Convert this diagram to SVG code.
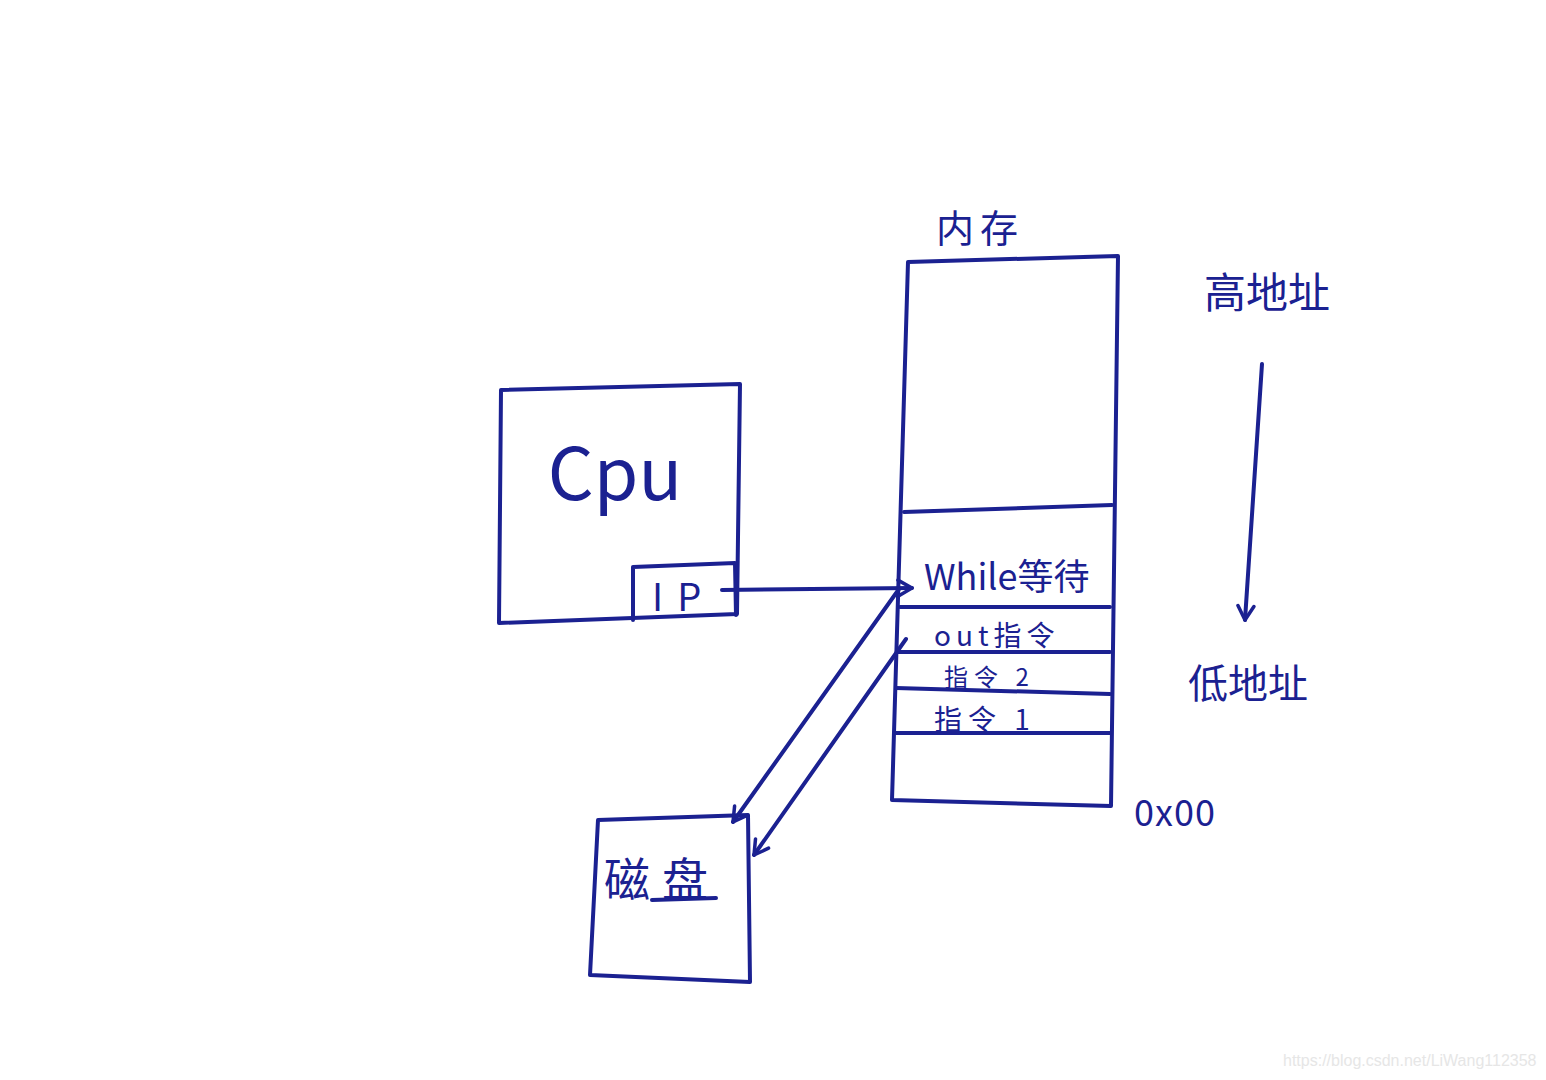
<svg xmlns="http://www.w3.org/2000/svg" width="1546" height="1080" viewBox="0 0 1546 1080">
<style>
.s{fill:none;stroke:#1b2191;stroke-width:4;stroke-linecap:round;stroke-linejoin:round}
.t{fill:#1b2191;font-family:"Noto Sans CJK SC","Liberation Sans",sans-serif}
.w{fill:#e6e6e6;font-family:"Liberation Sans",sans-serif;font-size:16px}
</style>
<defs>
<marker id="ah" viewBox="0 0 20 20" refX="18" refY="10" markerWidth="20" markerHeight="20" markerUnits="userSpaceOnUse" orient="auto">
<polyline points="4,2 18,10 4,18" fill="none" stroke="#1b2191" stroke-width="3.5" stroke-linecap="round" stroke-linejoin="round"/>
</marker>
</defs>
<rect width="1546" height="1080" fill="#fff"/>

<g id="memory">
<path class="s" d="M908,262 L1118,256 L1111,806 L892,800 Z"/>
<path class="s" d="M904,512 L1112,505"/>
<path class="s" d="M900,607 L1110,607"/>
<path class="s" d="M898,652 L1110,652"/>
<path class="s" d="M896,688 L1110,694"/>
<path class="s" d="M896,733 L1110,733"/>
<text class="t" x="936" y="242" font-size="38" letter-spacing="6">内存</text>
<text class="t" x="924" y="590" font-size="36">While等待</text>
<text class="t" x="934" y="646" font-size="28" letter-spacing="5">out指令</text>
<text class="t" x="944" y="686" font-size="24" letter-spacing="6">指令 2</text>
<text class="t" x="934" y="730" font-size="28" letter-spacing="6">指令 1</text>
</g>

<g id="high-addr"><text class="t" x="1204" y="308" font-size="42">高地址</text></g>
<g id="low-addr"><text class="t" x="1188" y="698" font-size="40">低地址</text></g>
<g id="zero-addr"><text class="t" x="1134" y="826" font-size="36" letter-spacing="1">0x00</text></g>

<g id="cpu">
<path class="s" d="M501,390 L740,384 L737,614 L499,623 Z"/>
<text class="t" x="615" y="500" font-size="72" text-anchor="middle">Cpu</text>
</g>

<g id="ip">
<path class="s" d="M633,620 L633,567 L735,563 L736,615"/>
<text class="t" x="652" y="611" font-size="38" letter-spacing="14">IP</text>
</g>

<g id="disk">
<path class="s" d="M598,820 L748,815 L750,982 L590,975 Z"/>
<text class="t" x="604" y="896" font-size="46" letter-spacing="12">磁盘</text>
<path class="s" d="M652,900 L716,898"/>
</g>

<g id="connectors">
<path class="s" d="M722,590 L912,588" marker-end="url(#ah)"/>
<path class="s" d="M899,589 L733,822" marker-end="url(#ah)"/>
<path class="s" d="M906,639 L754,855" marker-end="url(#ah)"/>
<path class="s" d="M1262,364 L1245,620" marker-end="url(#ah)"/>
</g>

<text class="w" x="1283" y="1066">https://blog.csdn.net/LiWang112358</text>
</svg>
